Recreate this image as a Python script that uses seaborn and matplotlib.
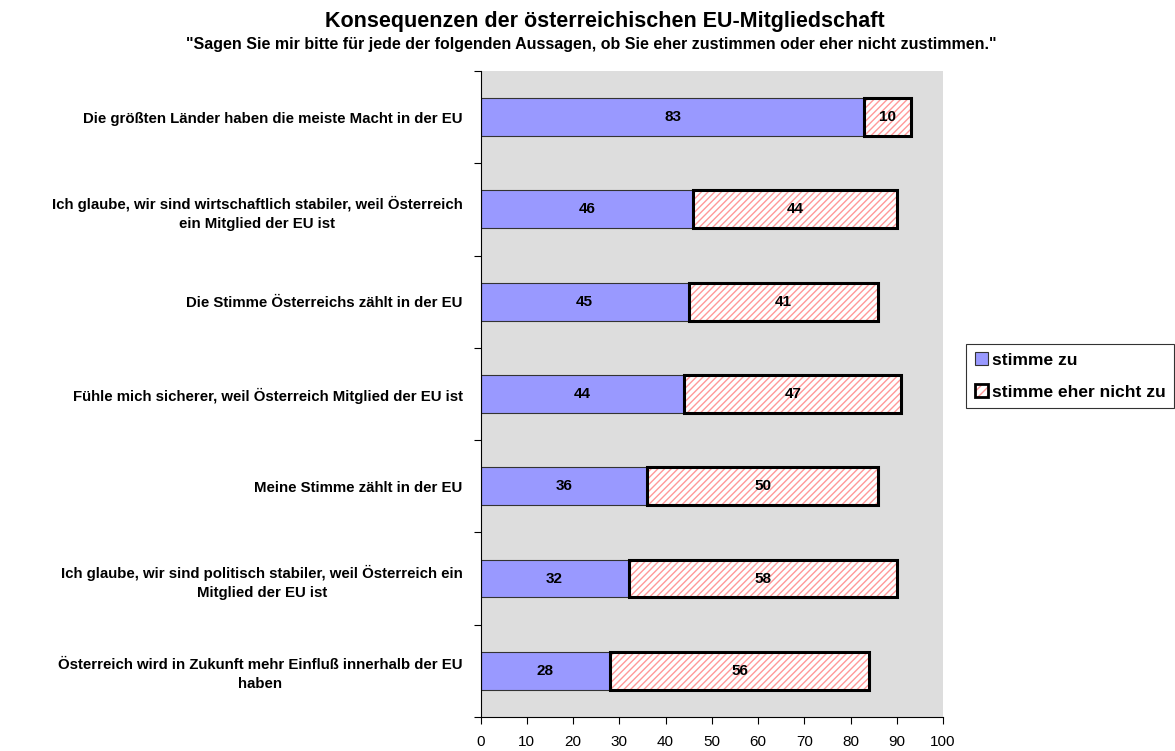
import matplotlib
matplotlib.use("Agg")
import matplotlib.pyplot as plt
from matplotlib.patches import Patch
import numpy as np
import pandas as pd
import seaborn as sns

# Daten
aussagen = [
    "Die größten Länder haben die meiste Macht in der EU",
    "Ich glaube, wir sind wirtschaftlich stabiler, weil Österreich\nein Mitglied der EU ist",
    "Die Stimme Österreichs zählt in der EU",
    "Fühle mich sicherer, weil Österreich Mitglied der EU ist",
    "Meine Stimme zählt in der EU",
    "Ich glaube, wir sind politisch stabiler, weil Österreich ein\nMitglied der EU ist",
    "Österreich wird in Zukunft mehr Einfluß innerhalb der EU\nhaben",
]
stimme_zu = [83, 46, 45, 44, 36, 32, 28]
eher_nicht_zu = [10, 44, 41, 47, 50, 58, 56]
x_ticks = [0, 10, 20, 30, 40, 50, 60, 70, 80, 90, 100]

sns.set_style("white", {"text.color": "black", "xtick.color": "black",
                        "ytick.color": "black", "axes.labelcolor": "black"})
plt.rcParams["font.family"] = ["Liberation Sans", "DejaVu Sans"]

df = pd.DataFrame({"aussage": aussagen, "zu": stimme_zu, "nicht": eher_nicht_zu})

fig = plt.figure(figsize=(11.75, 7.51), dpi=100)
ax = fig.add_axes([0.409, 0.0453, 0.3936, 0.8602])
ax.set_facecolor("#DDDDDD")

bar_h = 0.41
sns.barplot(data=df, x="zu", y="aussage", color="#9999FF", width=bar_h,
            saturation=1, edgecolor="#333333", linewidth=0.8, ax=ax)

pos = np.arange(len(df))
# schraffiertes Segment, dann schwarzer Rahmen darüber
ax.barh(pos, df["nicht"], left=df["zu"], height=bar_h, color="white",
        edgecolor="#FF9999", hatch="/////", linewidth=0)
ax.barh(pos, df["nicht"], left=df["zu"], height=bar_h, color="none",
        edgecolor="black", linewidth=2.2)

# Werte in die Balken
for i, (a, b) in enumerate(zip(df["zu"], df["nicht"])):
    ax.text(a / 2, i, str(a), ha="center", va="center", fontsize=11, fontweight="bold")
    ax.text(a + b / 2, i, str(b), ha="center", va="center", fontsize=11, fontweight="bold")

ax.set_xlim(0, 100)
ax.set_ylim(len(df) - 0.5, -0.5)
ax.set_xticks(x_ticks)
ax.set_xticklabels([str(t) for t in x_ticks], fontsize=11)
ax.set_yticks(pos)
ax.set_yticklabels(df["aussage"], fontsize=10.8, fontweight="bold",
                   multialignment="center", linespacing=1.45)
ax.set_yticks(np.arange(-0.5, len(df), 1), minor=True)
ax.tick_params(axis="y", which="major", length=0, pad=13)
ax.tick_params(axis="y", which="minor", length=5, width=0.8, direction="out", left=True)
ax.tick_params(axis="x", length=5, width=0.8, direction="out", bottom=True, pad=8)
ax.set_xlabel("")
ax.set_ylabel("")

for s in ["top", "right"]:
    ax.spines[s].set_visible(False)
for s in ["left", "bottom"]:
    ax.spines[s].set_color("black")
    ax.spines[s].set_linewidth(0.8)

fig.text(0.515, 0.972, "Konsequenzen der österreichischen EU-Mitgliedschaft",
         ha="center", va="center", fontsize=15.5, fontweight="bold")
fig.text(0.503, 0.941, '"Sagen Sie mir bitte für jede der folgenden Aussagen, ob Sie eher zustimmen oder eher nicht zustimmen."',
         ha="center", va="center", fontsize=11.5, fontweight="bold")

h_zu = Patch(facecolor="#9999FF", edgecolor="#333333", linewidth=0.8)
h_nicht = (Patch(facecolor="white", edgecolor="#FF9999", hatch="////", linewidth=0),
           Patch(facecolor="none", edgecolor="black", linewidth=2))
leg = fig.legend([h_zu, h_nicht], ["stimme zu", "stimme eher nicht zu"],
                 loc="center left", bbox_to_anchor=(0.822, 0.4995),
                 frameon=True, fancybox=False, prop={"weight": "bold", "size": 12.5},
                 handlelength=0.75, handleheight=0.75, handletextpad=0.25,
                 borderpad=0.5, labelspacing=0.95, borderaxespad=0)
leg.get_frame().set_edgecolor("black")
leg.get_frame().set_linewidth(0.8)

fig.savefig("out.png", dpi=100)
